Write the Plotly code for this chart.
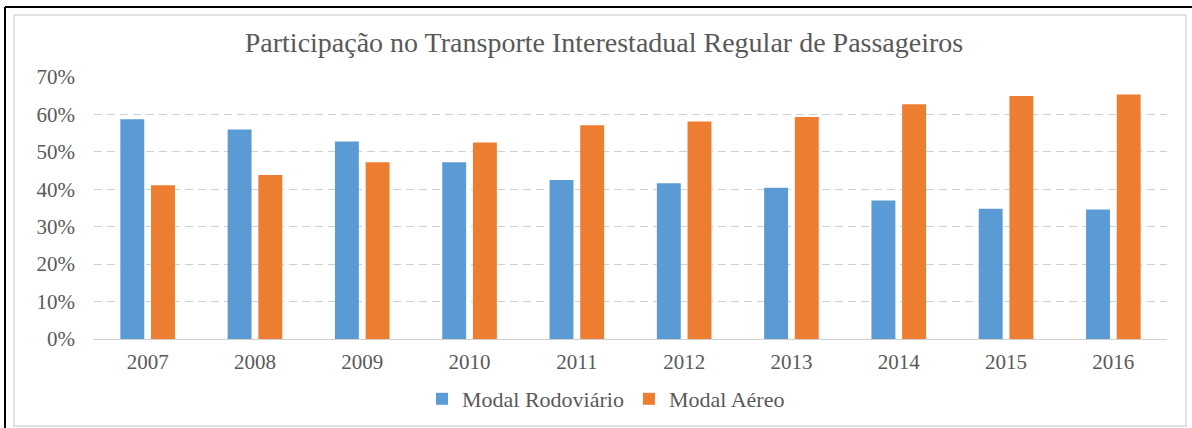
import plotly.graph_objects as go

# ---- data ----
years = ["2007", "2008", "2009", "2010", "2011", "2012", "2013", "2014", "2015", "2016"]
rodoviario = [0.587, 0.560, 0.528, 0.472, 0.425, 0.416, 0.404, 0.370, 0.348, 0.346]
aereo = [0.411, 0.438, 0.472, 0.525, 0.571, 0.581, 0.593, 0.627, 0.649, 0.653]
series_names = ["Modal Rodoviário", "Modal Aéreo"]
title_text = "Participação no Transporte Interestadual Regular de Passageiros"

# ---- layout constants ----
W, H = 1192, 428
L, R, T, B = 94, 25, 77, 89
PW, PH = W - L - R, H - T - B
BLUE, ORANGE = "#5B9BD5", "#ED7D31"
TXT = "#595959"
GRID = "#D9D9D9"
FONT = "Liberation Serif, Times New Roman, serif"


def px_x(p):
    return (p - L) / PW


def px_y(p):
    return (H - B - p) / PH


fig = go.Figure()
fig.add_trace(go.Bar(x=years, y=rodoviario, name=series_names[0], marker_color=BLUE,
                     marker_line_width=0))
fig.add_trace(go.Bar(x=years, y=aereo, name=series_names[1], marker_color=ORANGE,
                     marker_line_width=0))

fig.update_layout(
    width=W, height=H,
    margin=dict(l=L, r=R, t=T, b=B, autoexpand=False),
    paper_bgcolor="white", plot_bgcolor="white",
    barmode="group", bargap=0.428, bargroupgap=0.22,
    font=dict(family=FONT, color=TXT, size=21),
    title=dict(text=title_text, x=604 / W, xanchor="center", xref="container",
               y=1 - 42 / H, yanchor="middle", yref="container",
               font=dict(family=FONT, size=28, color=TXT)),
    legend=dict(orientation="h", x=px_x(606), xanchor="center", y=px_y(399), yanchor="middle",
                font=dict(family=FONT, size=22, color=TXT), bgcolor="rgba(0,0,0,0)"),
    showlegend=True,
)

fig.update_xaxes(type="category", showgrid=False, showline=True, linecolor="#D0D0D0", linewidth=1,
                 ticks="", ticklabelstandoff=4, tickfont=dict(family=FONT, size=21, color=TXT))
fig.update_yaxes(range=[0, 0.7], dtick=0.1, tick0=0, tickformat=".0%", showgrid=True,
                 gridcolor="#D0D0D0", griddash="8px,5px", gridwidth=1, zeroline=False, showline=False,
                 ticks="", ticklabelstandoff=18, tickfont=dict(family=FONT, size=21, color=TXT))

# frame: inner light-gray chart border and outer black page border
fig.add_shape(type="rect", xref="paper", yref="paper",
              x0=px_x(14), x1=px_x(1186), y0=px_y(426), y1=px_y(15),
              line=dict(color=GRID, width=1.5), fillcolor="rgba(0,0,0,0)", layer="below")
fig.add_shape(type="line", xref="paper", yref="paper",
              x0=px_x(5), x1=px_x(1192), y0=px_y(7), y1=px_y(7),
              line=dict(color="black", width=2))
fig.add_shape(type="line", xref="paper", yref="paper",
              x0=px_x(5), x1=px_x(5), y0=px_y(7), y1=px_y(428),
              line=dict(color="black", width=2))

# the page's default 8px body margin would shift the figure; remove it
fig.write_html("out.html", config={"displayModeBar": False},
               post_script="document.body.style.margin='0';")
